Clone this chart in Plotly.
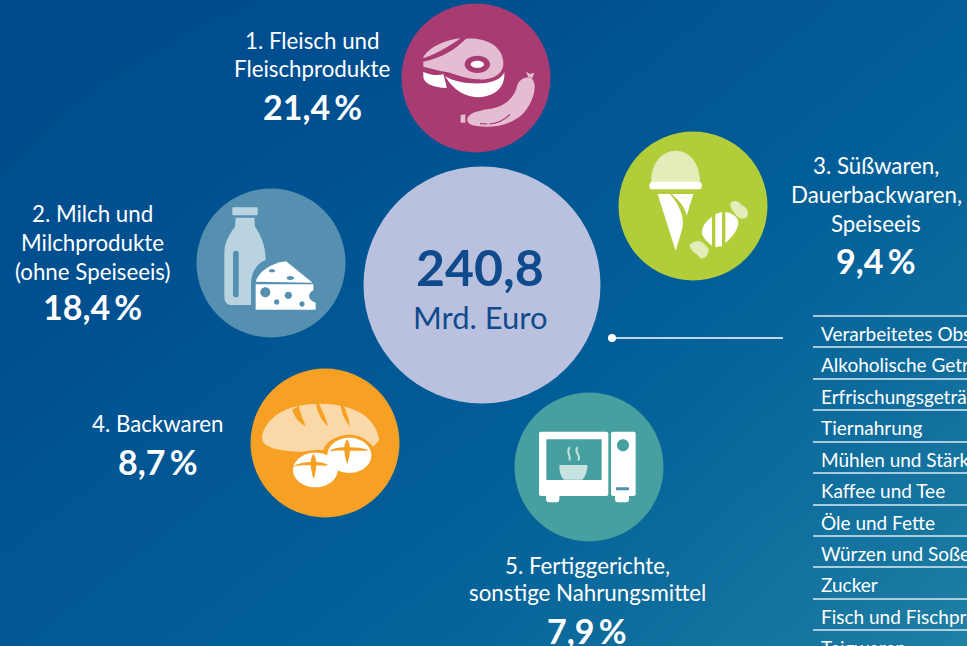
import re
import plotly.graph_objects as go

W, H = 967, 646
FONT = "Lato"

# ---------- data ----------
total_value = "240,8"
total_unit = "Mrd. Euro"
rank_labels = [
    ["1. Fleisch und", "Fleischprodukte"],
    ["2. Milch und", "Milchprodukte", "(ohne Speiseeis)"],
    ["3. Süßwaren,", "Dauerbackwaren,", "Speiseeis"],
    ["4. Backwaren"],
    ["5. Fertiggerichte,", "sonstige Nahrungsmittel"],
]
rank_shares = ["21,4", "18,4", "9,4", "8,7", "7,9"]
other_labels = ["Verarbeitetes Obst und Gemüse", "Alkoholische Getränke", "Erfrischungsgetränke",
                "Tiernahrung", "Mühlen und Stärke", "Kaffee und Tee", "Öle und Fette",
                "Würzen und Soßen", "Zucker", "Fisch und Fischprodukte", "Teigwaren"]
other_rules = [316, 347, 379, 410, 442, 473, 505, 536, 567, 599, 630]

bubble_x = [482, 476, 271, 693, 325, 589]
bubble_y = [285, 78, 263, 206, 443, 467]
bubble_d = [237, 149, 149, 149, 149, 149]
bubble_c = ["#BAC1DF", "#A83B72", "#5590B0", "#B1CE3A", "#F6A124", "#46A09F"]

label_cx = [312, 92, 876, 158, 587]
label_line_y = [[40, 68], [213, 242, 271], [165, 194, 223], [423], [565, 592]]
share_y = [106, 306, 260, 461, 630]

bg_colorscale = [[0, "#004A8D"], [0.5, "#015E98"], [1, "#1F7FA3"]]
bg_z = [[0.0, 0.12, 0.45], [0.12, 0.38, 0.72], [0.35, 0.62, 1.0]]
bg_x = [0, 480, 967]
bg_y = [0, 320, 646]

# ---------- helpers ----------
def zp(ox, oy, d):
    """Turn a path drawn in 3x crop units into canvas units."""
    toks = re.findall(r"[MLCQZ]|-?\d+\.?\d*", d)
    out, even = [], True
    for t in toks:
        if t in "MLCQZ":
            out.append(t)
        else:
            out.append(f"{ox + float(t)/3:.2f}" if even else f"{oy + float(t)/3:.2f}")
            even = not even
    return " ".join(out)

def ell(cx, cy, rx, ry=None):
    ry = rx if ry is None else ry
    k = 0.5523
    return (f"M{cx-rx},{cy} C{cx-rx},{cy-k*ry} {cx-k*rx},{cy-ry} {cx},{cy-ry} "
            f"C{cx+k*rx},{cy-ry} {cx+rx},{cy-k*ry} {cx+rx},{cy} "
            f"C{cx+rx},{cy+k*ry} {cx+k*rx},{cy+ry} {cx},{cy+ry} "
            f"C{cx-k*rx},{cy+ry} {cx-rx},{cy+k*ry} {cx-rx},{cy} Z")

def rr(x0, y0, x1, y1, r=6):
    return (f"M{x0+r},{y0} L{x1-r},{y0} Q{x1},{y0} {x1},{y0+r} L{x1},{y1-r} Q{x1},{y1} {x1-r},{y1} "
            f"L{x0+r},{y1} Q{x0},{y1} {x0},{y1-r} L{x0},{y0+r} Q{x0},{y0} {x0+r},{y0} Z")

shapes = []
def add(ox, oy, d, fill=None, line=None, lw=0):
    s = dict(type="path", xref="x", yref="y", path=zp(ox, oy, d), layer="above")
    s["fillcolor"] = fill if fill else "rgba(0,0,0,0)"
    s["line"] = dict(color=line, width=lw) if line else dict(width=0)
    shapes.append(s)

WHITE = "#FFFFFF"

# meat
o = (390, 0); BG = "#A83B72"; P = "#E5BDD3"
add(*o, "M100,172 C118,140 170,118 212,115 C190,130 150,158 100,175 Z", P)
add(*o, "M100,185 C150,175 195,150 228,116 C275,112 335,130 340,185 C342,222 310,240 265,238 C225,236 195,222 170,216 C145,212 120,205 100,200 Z", P)
add(*o, ell(262, 193, 38, 26), BG)
add(*o, ell(262, 193, 20, 11), WHITE)
add(*o, "M100,215 C120,225 145,228 160,222 C163,235 170,255 170,264 C130,262 100,250 100,230 Z", WHITE)
add(*o, "M165,228 C190,245 230,252 280,250 C310,248 335,235 343,217 C345,250 330,285 270,292 C225,292 190,270 165,228 Z", WHITE)
add(*o, "M232,355 C240,335 280,330 310,325 C350,315 375,290 382,255 C390,235 410,228 425,235 C445,255 430,310 395,345 C360,375 310,385 260,378 C240,375 230,370 232,355 Z", P)
add(*o, "M408,215 L420,222 L433,218 L427,234 L415,232 Z", P)
add(*o, "M212,345 L226,343 L226,368 L212,368 Z", P)
add(*o, "M270,371 L292,372 M298,372 C320,370 345,358 360,343", None, BG, 1.2)

# ice cream
o = (610, 125); BG = "#B1CE3A"; P = "#E3EDB9"
add(*o, "M123,172 C123,110 160,77 197,77 C235,77 270,110 270,172 Z", P)
add(*o, rr(118, 170, 276, 193, 11), WHITE)
add(*o, "M143,207 L180,207 C205,235 225,275 217,310 L197,378 Z", WHITE)
add(*o, "M185,207 L250,207 L230,272 C225,245 205,225 185,207 Z", WHITE)
add(*o, "M360,238 C368,222 385,228 395,240 C410,245 418,262 412,275 C400,285 385,280 380,272 C370,262 362,250 360,238 Z", P)
add(*o, "M240,358 C255,345 270,345 280,355 C290,365 298,372 296,380 C292,395 280,405 270,398 C262,385 250,385 245,375 C240,368 238,362 240,358 Z", P)
add(*o, "M306,275 C285,290 272,310 277,330 C285,345 295,355 306,362 Z", WHITE)
add(*o, "M306,275 L316,267 L316,366 L306,362 Z", BG)
add(*o, "M316,267 L336,261 L336,364 L316,366 Z", WHITE)
add(*o, "M336,261 C342,260 345,261 346,262 L346,354 L336,364 Z", BG)
add(*o, "M346,262 C365,262 382,275 385,292 C385,315 365,338 346,354 Z", WHITE)

# milk and cheese
o = (190, 185); BG = "#5590B0"; P = "#BAD3E0"
add(*o, rr(127, 67, 203, 91, 3), P)
add(*o, "M137,98 L193,98 L195,125 C215,155 227,185 227,225 C200,235 185,260 183,295 L183,360 L125,360 C110,360 103,350 103,335 L103,205 C103,170 120,145 135,125 Z", P)
add(*o, rr(129, 197, 146, 337, 8), BG)
add(*o, "M197,290 C205,262 240,235 288,229 L368,293 Z", WHITE)
add(*o, "M197,298 L370,298 L370,316 C352,325 352,345 377,353 L377,374 L197,374 Z", WHITE)
for cx, cy, rx, ry in [(226, 322, 15, 15), (295, 331, 11, 11), (260, 351, 8, 8), (336, 357, 8, 8),
                       (246, 257, 9, 5), (301, 279, 11, 6)]:
    add(*o, ell(cx, cy, rx, ry), BG)

# bread
o = (240, 360); BG = "#F6A124"; P = "#FBD8A7"
add(*o, "M66,232 C72,185 120,148 175,138 C220,128 280,128 330,145 C380,160 410,195 418,240 L400,260 C380,235 340,225 300,230 C275,235 255,250 250,270 C215,268 180,278 170,275 C120,272 65,265 66,232 Z", P)
add(*o, "M157,147 C165,146 172,142 176,136 C180,160 190,180 197,198 C180,192 160,168 157,147 Z", BG)
add(*o, "M228,131 C232,130 236,131 238,132 C245,150 258,175 265,198 C250,190 232,160 228,131 Z", BG)
add(*o, "M302,136 C308,138 312,141 315,144 C320,160 328,180 330,198 C315,185 305,160 302,136 Z", BG)
add(*o, ell(328, 285, 75, 61), BG)
add(*o, ell(226, 330, 73, 58), BG)
add(*o, ell(226, 330, 67, 52), WHITE)
add(*o, ell(328, 286, 66, 53), WHITE)
add(*o, "M160,320 C175,308 200,306 212,306 C213,296 215,288 220,281 C225,288 228,296 229,306 C240,306 255,308 266,316 C252,318 240,316 229,316 C228,330 225,345 221,357 C216,345 213,330 212,316 C195,315 175,316 160,320 Z", BG)
add(*o, "M268,274 C280,264 300,262 313,262 C314,252 316,244 321,238 C326,244 329,252 330,262 C345,262 370,264 386,270 C370,274 345,272 330,272 C329,285 326,300 322,312 C317,300 314,285 313,272 C295,271 285,272 268,274 Z", BG)

# microwave
o = (505, 385); BG = "#46A09F"; P = "#C6E3E1"
add(*o, rr(102, 140, 310, 333, 6), WHITE)
add(*o, rr(318, 140, 392, 333, 6), WHITE)
add(*o, rr(123, 325, 163, 352, 9), WHITE)
add(*o, rr(330, 325, 372, 352, 9), WHITE)
add(*o, rr(124, 163, 290, 285, 2), BG)
add(*o, "M163,240 L247,240 C247,262 240,275 232,284 L177,284 C168,275 163,262 163,240 Z", P)
add(*o, "M195,187 C180,200 200,212 193,226", None, P, 2)
add(*o, "M218,187 C203,200 232,212 219,226", None, P, 2)
add(*o, ell(354, 181, 18), BG)
add(*o, rr(333, 307, 372, 316, 2), "#5590B0")

# table rules
for y in other_rules:
    shapes.append(dict(type="line", xref="x", yref="y", x0=813, x1=W, y0=y, y1=y, layer="above",
                       line=dict(color="#DDE8F0", width=1.5)))

# ---------- figure ----------
fig = go.Figure()
fig.add_trace(go.Heatmap(x=bg_x, y=bg_y, z=bg_z, colorscale=bg_colorscale, zsmooth="best",
                         showscale=False, hoverinfo="skip", zmin=0, zmax=1))
fig.add_trace(go.Scatter(x=bubble_x, y=bubble_y, mode="markers", hoverinfo="skip",
                         marker=dict(size=bubble_d, color=bubble_c, line=dict(width=0), opacity=1)))
fig.add_trace(go.Scatter(x=[612, 783], y=[338, 338], mode="lines", hoverinfo="skip",
                         line=dict(color="#FFFFFF", width=1.6)))
fig.add_trace(go.Scatter(x=[612], y=[338], mode="markers", hoverinfo="skip",
                         marker=dict(size=8, color="#FFFFFF")))

ann = []
def text(x, y, s, size, color="#FFFFFF", bold=False, anchor="center", vanchor="middle"):
    ann.append(dict(x=x, y=y, xref="x", yref="y", text=f"<b>{s}</b>" if bold else s, showarrow=False,
                    xanchor=anchor, yanchor=vanchor, align=anchor, borderpad=0,
                    font=dict(family=FONT, size=size, color=color)))

text(480, 267, total_value, 50, "#0F4A8C", True)
text(480, 317, total_unit, 31, "#0F4A8C")
for cx, lines, ys, share, sy in zip(label_cx, rank_labels, label_line_y, rank_shares, share_y):
    for line, y in zip(lines, ys):
        text(cx, y, line, 22.3)
    text(cx, sy, f"{share}\u2009%", 34, bold=True)
for lab, y0 in zip(other_labels, other_rules):
    text(820, y0 + 5, lab, 19, anchor="left", vanchor="top")

fig.update_layout(
    width=W, height=H, margin=dict(l=0, r=0, t=0, b=0), showlegend=False,
    paper_bgcolor="#015E98", plot_bgcolor="#015E98",
    xaxis=dict(range=[0, W], visible=False, fixedrange=True),
    yaxis=dict(range=[H, 0], visible=False, fixedrange=True),
    shapes=shapes, annotations=ann,
)
fig.write_html("out.html", config=dict(displayModeBar=False),
               post_script="document.body.style.margin='0';document.body.style.overflow='hidden';")
